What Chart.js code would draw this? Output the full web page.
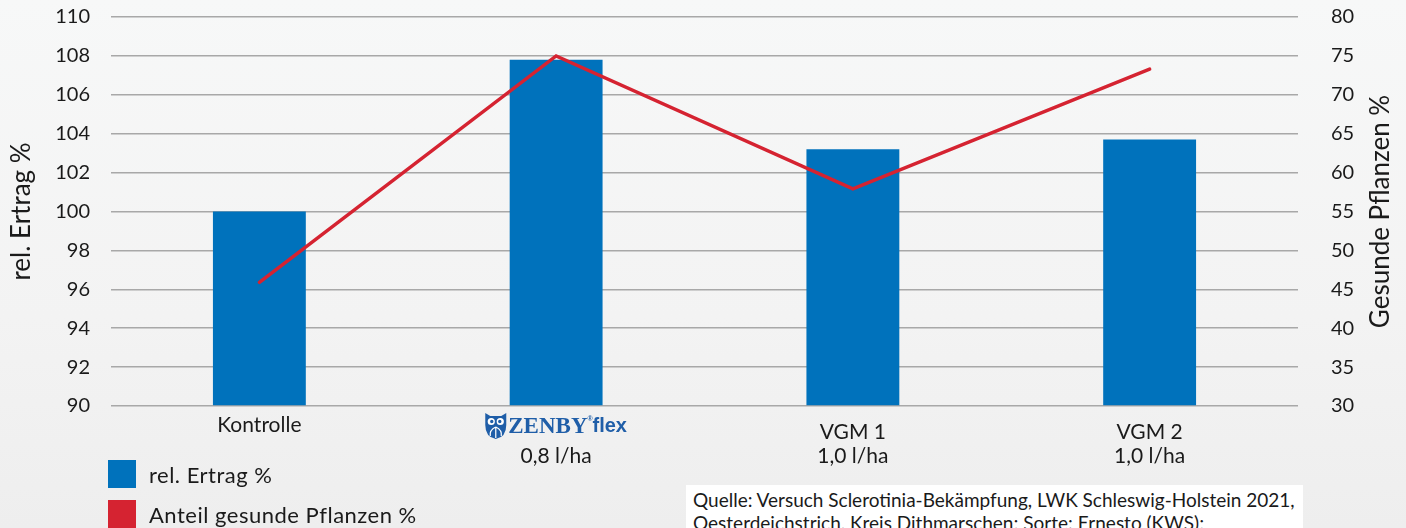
<!DOCTYPE html>
<html lang="de">
<head>
<meta charset="utf-8">
<title>rel. Ertrag und Anteil gesunde Pflanzen</title>
<script src="https://cdn.jsdelivr.net/npm/chart.js@4.4.1/dist/chart.umd.min.js"></script>
<style>
    html, body {
        margin: 0;
        padding: 0;
    }
    body {
        width: 1406px;
        height: 528px;
        overflow: hidden;
        background: linear-gradient(to bottom, #f7f8f8 0%, #f3f3f3 60%, #eeeeee 100%);
        font-family: Lato, "Noto Sans", sans-serif;
        color: #1a1a1a;
    }
    #wrap {
        position: relative;
        width: 1406px;
        height: 528px;
    }
    #chart {
        position: absolute;
        left: 0;
        top: 0;
    }
    .legend-item {
        position: absolute;
        left: 108px;
        height: 28px;
        display: flex;
        align-items: center;
        font-size: 22px;
        letter-spacing: 0.5px;
    }
    .legend-item span.box {
        display: inline-block;
        width: 28px;
        height: 28px;
        margin-right: 13px;
    }
    #source {
        position: absolute;
        left: 686px;
        top: 485px;
        width: 610px;
        height: 60px;
        background: #ffffff;
        padding: 3px 0 0 7px;
        font-size: 19px;
        line-height: 23px;
        white-space: nowrap;
    }
</style>
</head>
<body>
<div id="wrap">
    <canvas id="chart" width="1406" height="528"></canvas>
    <div class="legend-item" id="legend-bar" style="top:460px"><span class="box"></span><span class="txt"></span></div>
    <div class="legend-item" id="legend-line" style="top:500px"><span class="box"></span><span class="txt"></span></div>
    <div id="source">
        Quelle: Versuch Sclerotinia-Bekämpfung, LWK Schleswig-Holstein 2021,<br>
        Oesterdeichstrich, Kreis Dithmarschen; Sorte: Ernesto (KWS);
    </div>
</div>
<script>
const categories = ['Kontrolle', 'ZENBY flex', 'VGM 1', 'VGM 2'];
const doseLabels = ['', '0,8 l/ha', '1,0 l/ha', '1,0 l/ha'];
const ertragValues = [100, 107.8, 103.2, 103.7];
const gesundValues = [45.9, 75.0, 57.9, 73.3];
const ertragTicks = [90, 92, 94, 96, 98, 100, 102, 104, 106, 108, 110];
const gesundTicks = [30, 35, 40, 45, 50, 55, 60, 65, 70, 75, 80];
const leftTitle = 'rel. Ertrag %';
const rightTitle = 'Gesunde Pflanzen %';

const barColor = '#0072bc';
const lineColor = '#d52331';
const logoBlue = '#1f5ea8';
const textColor = '#1a1a1a';
const labelFont = '21px Lato, "Noto Sans", sans-serif';

// Legende als HTML unter dem Diagramm
document.querySelector('#legend-bar .box').style.background = barColor;
document.querySelector('#legend-bar .txt').textContent = 'rel. Ertrag %';
document.querySelector('#legend-line .box').style.background = lineColor;
document.querySelector('#legend-line .txt').textContent = 'Anteil gesunde Pflanzen %';

// kleine Eule vor dem Logo
function drawOwl(ctx, x, y) {
    ctx.save();
    ctx.fillStyle = logoBlue;
    ctx.beginPath();
    ctx.moveTo(x, y);
    ctx.lineTo(x + 5, y + 3);
    ctx.lineTo(x + 16, y + 3);
    ctx.lineTo(x + 21, y);
    ctx.lineTo(x + 21, y + 12);
    ctx.quadraticCurveTo(x + 21, y + 24, x + 10.5, y + 26);
    ctx.quadraticCurveTo(x, y + 24, x, y + 12);
    ctx.closePath();
    ctx.fill();
    ctx.fillStyle = '#ffffff';
    ctx.beginPath();
    ctx.arc(x + 6, y + 8.5, 3.6, 0, Math.PI * 2);
    ctx.arc(x + 15, y + 8.5, 3.6, 0, Math.PI * 2);
    ctx.fill();
    ctx.fillStyle = logoBlue;
    ctx.beginPath();
    ctx.arc(x + 6.5, y + 8.5, 1.7, 0, Math.PI * 2);
    ctx.arc(x + 14.5, y + 8.5, 1.7, 0, Math.PI * 2);
    ctx.fill();
    ctx.strokeStyle = '#ffffff';
    ctx.lineWidth = 1.2;
    ctx.beginPath();
    ctx.moveTo(x + 10.5, y + 14);
    ctx.quadraticCurveTo(x + 4, y + 17, x + 5, y + 23);
    ctx.moveTo(x + 10.5, y + 14);
    ctx.quadraticCurveTo(x + 17, y + 17, x + 16, y + 23);
    ctx.moveTo(x + 10.5, y + 14);
    ctx.lineTo(x + 10.5, y + 25);
    ctx.stroke();
    ctx.restore();
}

function drawZenbyLogo(ctx, cx, cy) {
    const serif = 'bold 23px "Liberation Serif", "DejaVu Serif", serif';
    const sans = 'bold 20px "Liberation Sans", "DejaVu Sans", sans-serif';
    ctx.font = serif;
    const wZ = ctx.measureText('ZENBY').width;
    ctx.font = sans;
    const wF = ctx.measureText('flex').width;
    const owlW = 21, gap = 2, regW = 5;
    const total = owlW + gap + wZ + regW + wF;
    let x = cx - total / 2;
    drawOwl(ctx, x, cy - 12);
    x += owlW + gap;
    ctx.fillStyle = logoBlue;
    ctx.textAlign = 'left';
    ctx.textBaseline = 'alphabetic';
    ctx.font = serif;
    ctx.fillText('ZENBY', x, cy + 8);
    x += wZ;
    ctx.font = 'bold 7px "Liberation Sans", sans-serif';
    ctx.fillText('®', x, cy - 4);
    x += regW;
    ctx.font = sans;
    ctx.fillText('flex', x, cy + 7);
}

const xLabelPlugin = {
    id: 'xLabels',
    afterDraw(chart) {
        const { ctx, chartArea, scales: { x } } = chart;
        ctx.save();
        categories.forEach((cat, i) => {
            const cx = x.getPixelForValue(i);
            if (cat === 'ZENBY flex') {
                drawZenbyLogo(ctx, cx, 425);
            }
            ctx.fillStyle = textColor;
            ctx.font = labelFont;
            ctx.textAlign = 'center';
            ctx.textBaseline = 'middle';
            if (cat === 'ZENBY flex') {
                ctx.fillText(doseLabels[i], cx, 456);
            } else if (doseLabels[i] === '') {
                ctx.fillText(cat, cx, 425);
            } else {
                ctx.fillText(cat, cx, 432);
                ctx.fillText(doseLabels[i], cx, 456);
            }
        });

        // rechter Achsentitel, von unten nach oben gelesen
        ctx.translate(1381, (chartArea.top + chartArea.bottom) / 2);
        ctx.rotate(-Math.PI / 2);
        ctx.font = '26px Lato, "Noto Sans", sans-serif';
        ctx.fillStyle = textColor;
        ctx.textAlign = 'center';
        ctx.textBaseline = 'middle';
        ctx.fillText(rightTitle, 0, 0);
        ctx.restore();
    }
};

const tickFont = { family: 'Lato', size: 20 };
const titleFont = { family: 'Lato', size: 26 };

new Chart(document.getElementById('chart'), {
    data: {
        labels: categories,
        datasets: [
            {
                type: 'line',
                label: 'Anteil gesunde Pflanzen %',
                data: gesundValues,
                yAxisID: 'y1',
                borderColor: lineColor,
                borderWidth: 3.5,
                pointRadius: 0,
                tension: 0,
                borderCapStyle: 'round',
                borderJoinStyle: 'miter',
                order: 0
            },
            {
                type: 'bar',
                label: 'rel. Ertrag %',
                data: ertragValues,
                yAxisID: 'y',
                backgroundColor: barColor,
                barPercentage: 0.313,
                categoryPercentage: 1,
                base: 90,
                order: 1
            }
        ]
    },
    options: {
        responsive: false,
        animation: false,
        layout: {
            padding: { top: 17, bottom: 0, left: 0, right: 0 }
        },
        plugins: {
            legend: { display: false },
            tooltip: { enabled: false }
        },
        scales: {
            x: {
                grid: { display: false },
                border: { display: false },
                ticks: { display: false },
                afterFit: (scale) => { scale.height = 122; }
            },
            y: {
                position: 'left',
                min: 90,
                max: 110,
                afterBuildTicks: (scale) => { scale.ticks = ertragTicks.map(v => ({ value: v })); },
                grid: { color: '#a8a8a8', lineWidth: 1.5, drawTicks: false },
                border: { display: false },
                ticks: { font: tickFont, color: textColor, padding: 21 },
                title: {
                    display: true,
                    text: leftTitle,
                    font: titleFont,
                    color: textColor,
                    padding: { top: 6, bottom: 0 }
                },
                afterFit: (scale) => {
                    scale.width = 111;
                    scale.paddingTop = 0;
                    scale.paddingBottom = 0;
                }
            },
            y1: {
                position: 'right',
                min: 30,
                max: 80,
                afterBuildTicks: (scale) => { scale.ticks = gesundTicks.map(v => ({ value: v })); },
                grid: { display: false },
                border: { display: false },
                ticks: { font: tickFont, color: textColor, padding: 25 },
                afterFit: (scale) => {
                    scale.width = 108;
                    scale.paddingTop = 0;
                    scale.paddingBottom = 0;
                }
            }
        }
    },
    plugins: [xLabelPlugin]
});
</script>
</body>
</html>
